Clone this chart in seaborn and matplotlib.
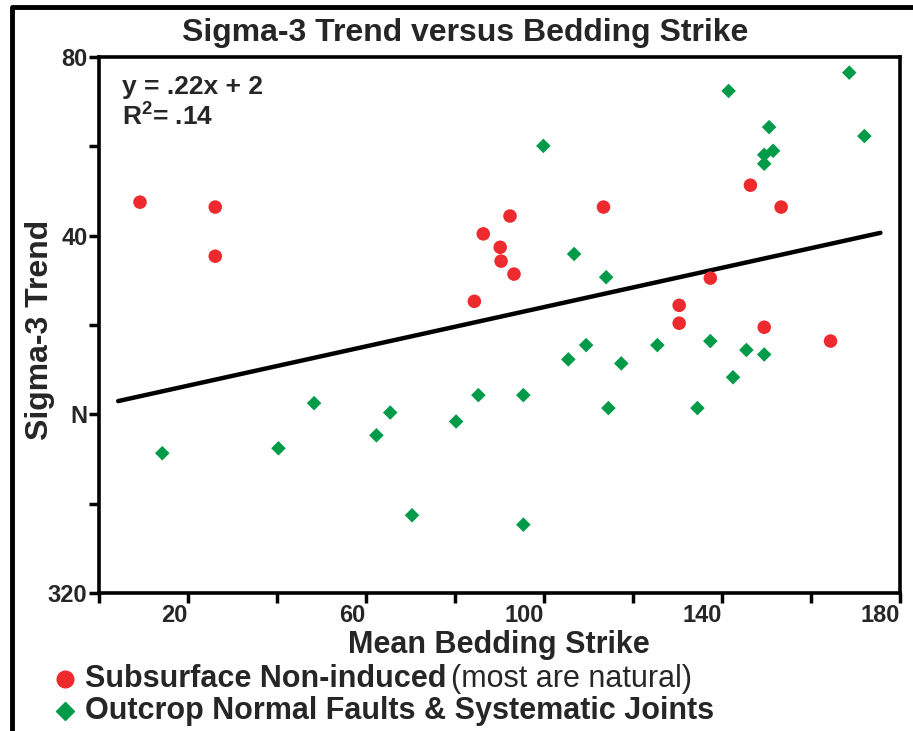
import matplotlib
matplotlib.use('Agg')
import matplotlib.pyplot as plt
from matplotlib.lines import Line2D
import seaborn as sns
import pandas as pd

# Subsurface non-induced (red circles)
sub_strike = [9.3, 26.2, 26.2, 84.4, 86.4, 90.2, 90.4, 92.4, 93.3, 113.4,
              130.4, 130.4, 137.4, 146.4, 149.5, 153.3, 164.4]
sub_trend = [47.5, 46.4, 35.4, 25.3, 40.4, 37.4, 34.3, 44.4, 31.4, 46.4,
             24.4, 20.4, 30.5, 51.3, 19.5, 46.4, 16.4]

# Outcrop normal faults & systematic joints (green diamonds)
out_strike = [14.3, 40.4, 48.4, 62.4, 65.5, 70.4, 80.3, 85.3, 95.4, 95.4,
              99.9, 105.5, 106.8, 109.5, 114.0, 114.5, 117.4, 125.5, 134.5, 137.4,
              141.5, 142.5, 145.5, 149.5, 149.5, 149.5, 151.5, 150.6, 168.6, 172.0]
out_trend = [-8.7, -7.6, 2.5, -4.7, 0.4, -22.6, -1.6, 4.3, 4.3, -24.7,
             60.1, 12.3, 35.9, 15.5, 30.7, 1.4, 11.4, 15.5, 1.4, 16.4,
             72.4, 8.3, 14.4, 13.4, 56.1, 58.1, 59.0, 64.3, 76.5, 62.3]

# trend line y = .22x + 2
slope, intercept = 0.22, 2
fit_x = [4.4, 175.6]

x_ticks = [0, 20, 40, 60, 80, 100, 120, 140, 160, 180]
x_labels = ['', '20', '', '60', '', '100', '', '140', '', '180']
y_ticks = [-40, -20, 0, 20, 40, 60, 80]
y_labels = ['320', '', 'N', '', '40', '', '80']

sub = pd.DataFrame({'strike': sub_strike, 'trend': sub_trend})
out = pd.DataFrame({'strike': out_strike, 'trend': out_trend})
fit = pd.DataFrame({'strike': fit_x, 'trend': [slope * v + intercept for v in fit_x]})

RED = '#ED2A2E'
GREEN = '#009B48'

sns.set_theme(style='white')
plt.rcParams['font.family'] = ['Liberation Sans', 'DejaVu Sans']
plt.rcParams['mathtext.fontset'] = 'custom'
plt.rcParams['mathtext.rm'] = 'Liberation Sans:bold'
plt.rcParams['mathtext.it'] = 'Liberation Sans:bold'
plt.rcParams['mathtext.bf'] = 'Liberation Sans:bold'

fig = plt.figure(figsize=(9.13, 7.31), dpi=100)
ax = fig.add_axes([98.6 / 913, 1 - 593 / 731, (900 - 98.6) / 913, (593 - 57) / 731])

sns.lineplot(data=fit, x='strike', y='trend', color='black', linewidth=3.2, ax=ax)
sns.scatterplot(data=out, x='strike', y='trend', marker='D', s=55, color=GREEN,
                edgecolor='none', ax=ax, zorder=3)
sns.scatterplot(data=sub, x='strike', y='trend', marker='o', s=95, color=RED,
                edgecolor='none', ax=ax, zorder=3)

ax.set_xlim(0, 180)
ax.set_ylim(-40, 80)
ax.set_xticks(x_ticks)
ax.set_xticklabels(x_labels, ha='right', fontsize=17, fontweight='bold')
ax.set_yticks(y_ticks)
ax.set_yticklabels(y_labels, fontsize=17, fontweight='bold')
ax.tick_params(direction='out', length=7, width=2.5, color='black', pad=1,
               bottom=True, left=True)
for s in ax.spines.values():
    s.set_color('black')
    s.set_linewidth(2.6)

ax.set_xlabel('Mean Bedding Strike', fontsize=22, fontweight='bold', va='center')
ax.xaxis.set_label_coords(0.5, (593 - 645) / 536)
ax.set_ylabel('Sigma-3 Trend', fontsize=23, fontweight='bold', va='center')
ax.yaxis.set_label_coords((40 - 98.6) / 801.4, 0.49)

ax.text(0.029, 0.944, 'y = .22x + 2', transform=ax.transAxes, fontsize=19,
        fontweight='bold', va='center', ha='left')
ax.text(0.029, 0.888, 'R$^{2}$= .14', transform=ax.transAxes, fontsize=19,
        fontweight='bold', va='center', ha='left')

fig.text(465 / 913, 1 - 33 / 731, 'Sigma-3 Trend versus Bedding Strike',
         fontsize=23, fontweight='bold', ha='center', va='center')

# legend drawn by hand under the axes
fig.add_artist(Line2D([65 / 913], [1 - 679 / 731], marker='o', markersize=12,
                      color=RED, linestyle='none', transform=fig.transFigure))
fig.add_artist(Line2D([65 / 913], [1 - 711 / 731], marker='D', markersize=9,
                      color=GREEN, linestyle='none', transform=fig.transFigure))
t1 = fig.text(85 / 913, 1 - 679 / 731, 'Subsurface Non-induced', fontsize=22,
              fontweight='bold', ha='left', va='center')
fig.text(85 / 913, 1 - 711 / 731, 'Outcrop Normal Faults & Systematic Joints',
         fontsize=22, fontweight='bold', ha='left', va='center')
fig.canvas.draw()
bb = t1.get_window_extent().transformed(fig.transFigure.inverted())
fig.text(bb.x1 + 5 / 913, 1 - 679 / 731, '(most are natural)', fontsize=22,
         ha='left', va='center')

# outer frame
fig.add_artist(Line2D([12 / 913, 12 / 913, 1], [0, 1 - 7 / 731, 1 - 7 / 731],
                      color='black', linewidth=3.5, transform=fig.transFigure))

fig.savefig('out.png', dpi=100)
